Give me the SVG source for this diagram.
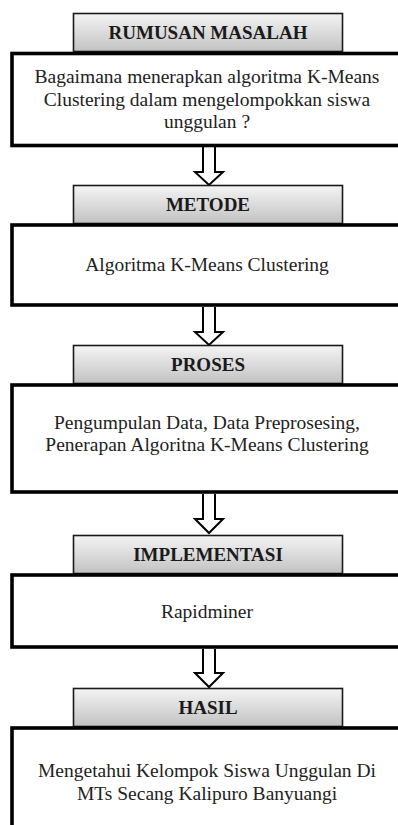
<svg xmlns="http://www.w3.org/2000/svg" width="398" height="825" viewBox="0 0 398 825">
<defs>
<linearGradient id="hg" x1="0" y1="0" x2="0" y2="1">
<stop offset="0" stop-color="#f4f4f4"/>
<stop offset="1" stop-color="#c2c2c2"/>
</linearGradient>
<style>
.hdr{fill:url(#hg);stroke:#1a1a1a;stroke-width:1.6}
.box{fill:#ffffff;stroke:#000000;stroke-width:3.6}
.ht{font-weight:bold;font-size:19px;fill:#1a1a1a;text-anchor:middle}
.bt{font-size:19.5px;fill:#222222;text-anchor:middle}
.arr{fill:#ffffff;stroke:#000000;stroke-width:2;stroke-linejoin:miter}
</style>
</defs>
<rect width="398" height="825" fill="#ffffff"/>
<g id="connectors">
<path class="arr" d="M203,147 L203,172 L195,172 L209,185 L223,172 L215,172 L215,147"/>
<path class="arr" d="M203,307 L203,332 L195,332 L209,345 L223,332 L215,332 L215,307"/>
<path class="arr" d="M203,494 L203,519 L195,519 L209,533 L223,519 L215,519 L215,494"/>
<path class="arr" d="M203,649 L203,673 L195,673 L209,687 L223,673 L215,673 L215,649"/>
</g>
<g font-family="'Liberation Serif', 'Times New Roman', 'DejaVu Serif', serif">
<g id="rumusan">
<rect class="hdr" x="73.5" y="13.5" width="269" height="38"/>
<text class="ht" x="208" y="39">RUMUSAN MASALAH</text>
<rect class="box" x="12" y="53.5" width="400" height="92"/>
<text class="bt" x="207" y="83">Bagaimana menerapkan algoritma K-Means</text>
<text class="bt" x="207" y="105.5">Clustering dalam mengelompokkan siswa</text>
<text class="bt" x="207" y="128">unggulan ?</text>
</g>
<g id="metode">
<rect class="hdr" x="73.5" y="185.5" width="269" height="38"/>
<text class="ht" x="208" y="211">METODE</text>
<rect class="box" x="12" y="225" width="400" height="80"/>
<text class="bt" x="207" y="271">Algoritma K-Means Clustering</text>
</g>
<g id="proses">
<rect class="hdr" x="73.5" y="345.5" width="269" height="38"/>
<text class="ht" x="208" y="371">PROSES</text>
<rect class="box" x="12" y="385" width="400" height="107"/>
<text class="bt" x="207" y="429">Pengumpulan Data, Data Preprosesing,</text>
<text class="bt" x="207" y="451">Penerapan Algoritna K-Means Clustering</text>
</g>
<g id="implementasi">
<rect class="hdr" x="73.5" y="535.5" width="269" height="38"/>
<text class="ht" x="208" y="561">IMPLEMENTASI</text>
<rect class="box" x="12" y="575" width="400" height="72"/>
<text class="bt" x="207" y="618">Rapidminer</text>
</g>
<g id="hasil">
<rect class="hdr" x="73.5" y="688.5" width="269" height="38"/>
<text class="ht" x="208" y="714">HASIL</text>
<rect class="box" x="12" y="728" width="400" height="120"/>
<text class="bt" x="207" y="777">Mengetahui Kelompok Siswa Unggulan Di</text>
<text class="bt" x="207" y="800">MTs Secang Kalipuro Banyuangi</text>
</g>
</g>
</svg>
